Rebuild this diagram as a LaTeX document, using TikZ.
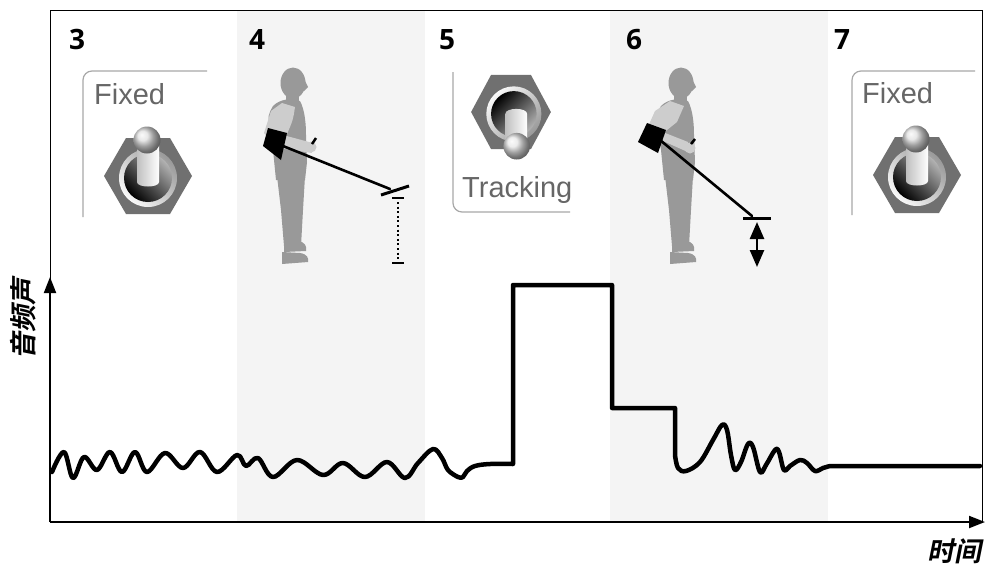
\documentclass[tikz,border=0pt]{standalone}
\usepackage{fontspec}
\setmainfont{Liberation Sans}
\newfontfamily\numfont{Open Sans}
\newfontfamily\cjkfont{Noto Sans CJK SC Bold}[FakeSlant=0.2]
\usetikzlibrary{arrows.meta}

\definecolor{bandgray}{HTML}{F4F4F4}
\definecolor{bracketgray}{HTML}{A8A8A8}
\definecolor{labelgray}{HTML}{666666}
\definecolor{nutgray}{HTML}{707070}
\definecolor{bodygray}{HTML}{999999}
\definecolor{armgray}{HTML}{CDCDCD}

\tikzset{
  band/.style={fill=bandgray},
  bracketline/.style={draw=bracketgray, line width=1.2pt, rounded corners=9pt},
  axisline/.style={line width=2pt, -{Triangle[length=16pt,width=12pt]}},
  signal/.style={line width=4.5pt, line join=round, line cap=round},
  panelnum/.style={font=\numfont\bfseries\fontsize{28}{28}\selectfont, anchor=base west, inner sep=0pt},
  modelabel/.style={font=\fontsize{29}{29}\selectfont, text=labelgray, anchor=base west, inner sep=0pt},
  axislabel/.style={font=\cjkfont\fontsize{27}{27}\selectfont, inner sep=0pt},
  shaft/.style={line width=2.6pt, line cap=round},
  coil/.style={line width=3pt},
}

% hexagonal nut with a toggle lever pointing up
\newcommand{\togglefixed}[3]{%
  \begin{scope}[shift={(#1,#2)}, scale=#3]
    \fill[nutgray] (-44,0) -- (-22,-38) -- (22,-38) -- (44,0) -- (22,38) -- (-22,38) -- cycle;
    \shade[top color=gray!80, bottom color=gray!5, shading angle=-45] (0,2) circle[radius=29pt];
    \shade[top color=gray!60, bottom color=black, shading angle=-45] (0,2) circle[radius=24pt];
    \shade[left color=gray!50, right color=white] (-11,-36) -- (-11,6) .. controls (-11,12) and (11,12) .. (11,6) -- (11,-36) -- cycle;
    \shade[ball color=gray!25] (-1,-36) circle[radius=13.5pt];
  \end{scope}}

% hexagonal nut with a toggle lever pointing down
\newcommand{\toggletracking}[3]{%
  \begin{scope}[shift={(#1,#2)}, scale=#3]
    \fill[nutgray] (-42,0) -- (-21,-39) -- (21,-39) -- (42,0) -- (21,39) -- (-21,39) -- cycle;
    \shade[top color=gray!5, bottom color=gray!80, shading angle=45] (3,2) circle[radius=29pt];
    \shade[top color=black, bottom color=gray!60, shading angle=45] (3,2) circle[radius=24pt];
    \shade[left color=gray!50, right color=white] (-6,36) -- (-6,2) .. controls (-6,-5) and (17,-5) .. (17,2) -- (17,36) -- cycle;
    \shade[ball color=gray!20] (6,36) circle[radius=14pt];
  \end{scope}}

% standing figure, seen from the side
\newcommand{\walkerbody}{%
  \fill[bodygray] (293,83) ellipse [x radius=12.5pt, y radius=15.5pt];
  \fill[bodygray] (304,79) -- (308,87) -- (304,91) -- cycle;
  \fill[bodygray] (286,94) rectangle (299,106);
  \fill[bodygray] (273,106) .. controls (280,99) and (290,98) .. (300,101)
     .. controls (305,110) and (306,125) .. (306,135) -- (307,162) -- (305,180)
     -- (276,180) -- (273,150) -- (269,128) .. controls (268,115) .. cycle;
  \fill[bodygray] (277,176) -- (305,176) -- (303,210) -- (301,246) -- (284,246) -- (281,210) -- cycle;
  \fill[bodygray] (284,241) -- (298,241) .. controls (305,242) and (307,246) .. (306,251) -- (284,252) -- cycle;
  \fill[bodygray] (282,252) -- (300,253) .. controls (307,254) and (309,258) .. (308,262) -- (282,264) -- cycle;}

\begin{document}
\begin{tikzpicture}[x=1pt,y=-1pt]
\useasboundingbox (0,0) rectangle (988,566);
\fill[white] (0,0) rectangle (988,566);

% shaded phases
\fill[band] (237,10) rectangle (425,522);
\fill[band] (610,10) rectangle (828,522);

% outer frame
\draw[line width=1pt] (50,10) rectangle (982,522);

% phase numbers
\node[panelnum] (n3) at (69,49) {3};
\node[panelnum] (n4) at (249,49) {4};
\node[panelnum] (n5) at (439,49) {5};
\node[panelnum] (n6) at (626,49) {6};
\node[panelnum] (n7) at (834,49) {7};

% mode switch: Fixed
\draw[bracketline] (83,217) -- (83,71) -- (207,71);
\node[modelabel] (fixedA) at (94,104) {Fixed};
\togglefixed{148}{176}{1}

% mode switch: Tracking
\draw[bracketline] (453,72) -- (453,212) -- (570,212);
\node[modelabel] (tracking) at (462,197) {Tracking};
\toggletracking{511}{112}{0.95}

% mode switch: Fixed again
\draw[bracketline] (852,215) -- (852,71) -- (975,71);
\node[modelabel] (fixedB) at (862,103) {Fixed};
\togglefixed{917}{175}{1}

% detector held at a fixed height
\walkerbody
\fill[armgray] (282,103) -- (295,107) .. controls (293,120) .. (287,134) -- (272,142) -- (264,133) -- (271,111) -- cycle;
\fill[armgray] (268,131) -- (309,142) -- (312,153) -- (272,147) -- cycle;
\fill[armgray] (311,147) circle[radius=5.5pt];
\fill[black] (263,146) -- (268,128) -- (287,133) -- (281,160) -- cycle;
\draw[line width=2.5pt] (312,144) -- (316,138);
\draw[shaft] (283,146) -- (390,189);
\draw[coil] (381,195) -- (409,186);
\draw[line width=2.4pt, dash pattern=on 2pt off 2.6pt] (398,202) -- (398,260);
\draw[line width=2.5pt] (392,198) -- (404,198);
\draw[line width=2.5pt] (392,263) -- (404,263);

% detector moved up and down
\begin{scope}[shift={(388,0)}]
  \walkerbody
\end{scope}
\fill[armgray] (670,101) -- (684,106) -- (677,122) -- (662,134) -- (647,129) -- (655,111) -- cycle;
\fill[armgray] (650,127) -- (688,142) -- (690,153) -- (654,137) -- cycle;
\fill[armgray] (690,148) circle[radius=5.5pt];
\fill[black] (638,142) -- (647,123) -- (666,130) -- (658,153) -- cycle;
\draw[line width=2.5pt] (691,144) -- (695,139);
\draw[shaft] (660,140) -- (752,216);
\draw[coil] (743,218) -- (771,218);
\coordinate (upTip) at (757,222);
\coordinate (downTip) at (757,267);
\draw[line width=2.5pt, {Triangle[length=17pt,width=14pt]}-{Triangle[length=17pt,width=14pt]}] (upTip) -- (downTip);

% axes
\coordinate (O) at (50,522);
\coordinate (ytip) at (50,277);
\coordinate (xtip) at (985,522);
\draw[axisline] (O) -- (ytip);
\draw[axisline] (O) -- (xtip);
\node[axislabel, rotate=90] (ylab) at (23,319) {音频声};
\node[axislabel] (xlab) at (954,551) {时间};

% audio tone over time
\draw[signal]
  plot[smooth, tension=0.6] coordinates {
    (52,472) (64,452) (73,478) (84,457) (97,470) (110,452) (122,472) (135,452)
    (147,472) (165,453) (183,468) (200,452) (217,472) (237,455) (246,466)
    (258,458) (273,477) (297,460) (323,475) (343,463) (365,477) (387,462)
    (405,478) (418,463) (433,449) (442,458) (448,470) (458,477) (463,477)
    (467,471) (475,466) (490,464) (513,464)}
  -- (513,285) -- (612,285) -- (612,408) -- (675,408) -- (675,455)
  -- plot[smooth, tension=0.6] coordinates {
    (675,455) (678,468) (686,471) (700,462) (713,440) (722,425) (727,430)
    (731,455) (735,470) (741,462) (748,444) (753,447) (760,472) (766,465)
    (775,450) (779,452) (784,470) (790,466) (800,460) (807,463) (815,471)
    (823,468) (830,466)}
  -- (980,466);
\end{tikzpicture}
\end{document}
